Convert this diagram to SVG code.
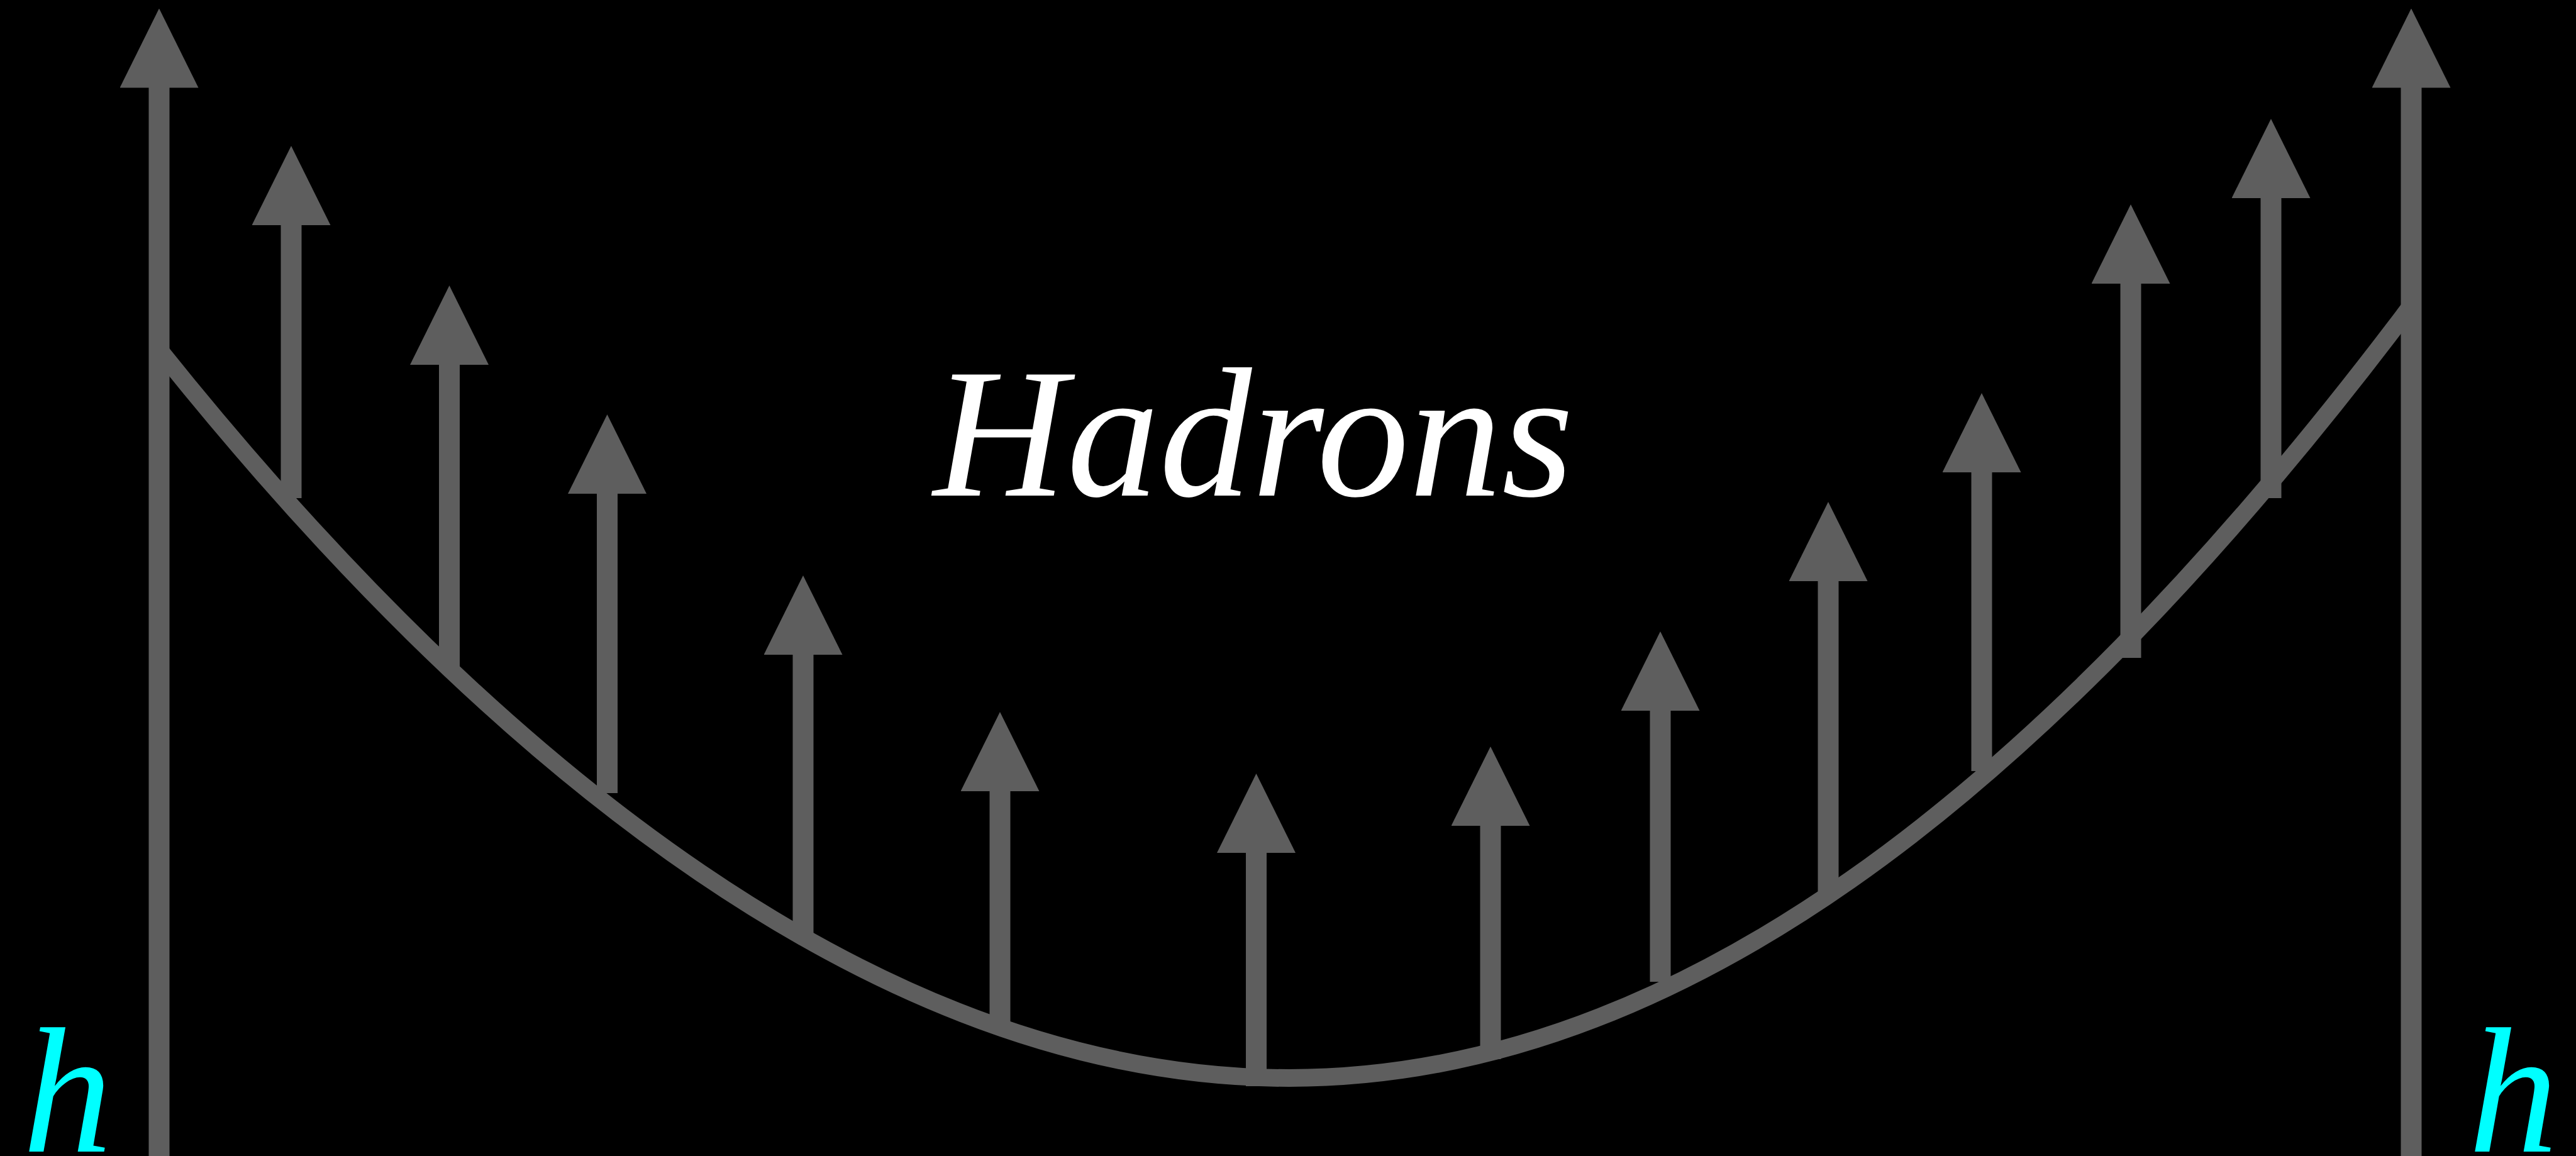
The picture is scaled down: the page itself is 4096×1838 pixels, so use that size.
<svg xmlns="http://www.w3.org/2000/svg" width="4096" height="1838" viewBox="0 0 4096 1838">
<defs>
<style>
.shaft{stroke:#5e5e5e;stroke-width:33;fill:none;marker-end:url(#head)}
.curve{stroke:#5e5e5e;stroke-width:28;fill:none}
.title{font-family:"Liberation Serif","DejaVu Serif",serif;font-style:italic;fill:#ffffff}
.h{font-family:"Liberation Serif","DejaVu Serif",serif;font-style:italic;fill:#00ffff}
</style>
<marker id="head" viewBox="0 0 126 125" refX="1" refY="62.5" markerWidth="126" markerHeight="125" markerUnits="userSpaceOnUse" orient="auto">
<path d="M0,0 L126,62.5 L0,125 Z" fill="#5e5e5e"/>
</marker>
</defs>
<rect width="4096" height="1838" fill="#000000"/>
<g id="connectors">
<path id="curve" class="curve" d="M253,556 C793,1231 1410,1714 2050,1714 C2650,1714 3234,1284 3834,486"/>
<line id="a1" class="shaft" x1="253" y1="1838" x2="253" y2="138.5"/>
<line id="a2" class="shaft" x1="463" y1="792" x2="463" y2="357"/>
<line id="a3" class="shaft" x1="714.5" y1="1060" x2="714.5" y2="579"/>
<line id="a4" class="shaft" x1="965.5" y1="1261" x2="965.5" y2="784"/>
<line id="a5" class="shaft" x1="1277" y1="1494" x2="1277" y2="1040"/>
<line id="a6" class="shaft" x1="1590" y1="1630" x2="1590" y2="1257"/>
<line id="a7" class="shaft" x1="1997.5" y1="1727" x2="1997.5" y2="1355"/>
<line id="a8" class="shaft" x1="2370" y1="1684" x2="2370" y2="1312"/>
<line id="a9" class="shaft" x1="2640" y1="1561" x2="2640" y2="1129"/>
<line id="a10" class="shaft" x1="2907" y1="1418" x2="2907" y2="923"/>
<line id="a11" class="shaft" x1="3151" y1="1226" x2="3151" y2="750"/>
<line id="a12" class="shaft" x1="3388" y1="1046" x2="3388" y2="450"/>
<line id="a13" class="shaft" x1="3611" y1="792" x2="3611" y2="314"/>
<line id="a14" class="shaft" x1="3834" y1="1838" x2="3834" y2="138.5"/>
</g>
<g id="label-hadrons"><text class="title" x="1484" y="788" font-size="294">Hadrons</text></g>
<g id="label-h-left"><text class="h" x="36" y="1831" font-size="285">h</text></g>
<g id="label-h-right"><text class="h" x="3925" y="1831" font-size="285">h</text></g>
</svg>
